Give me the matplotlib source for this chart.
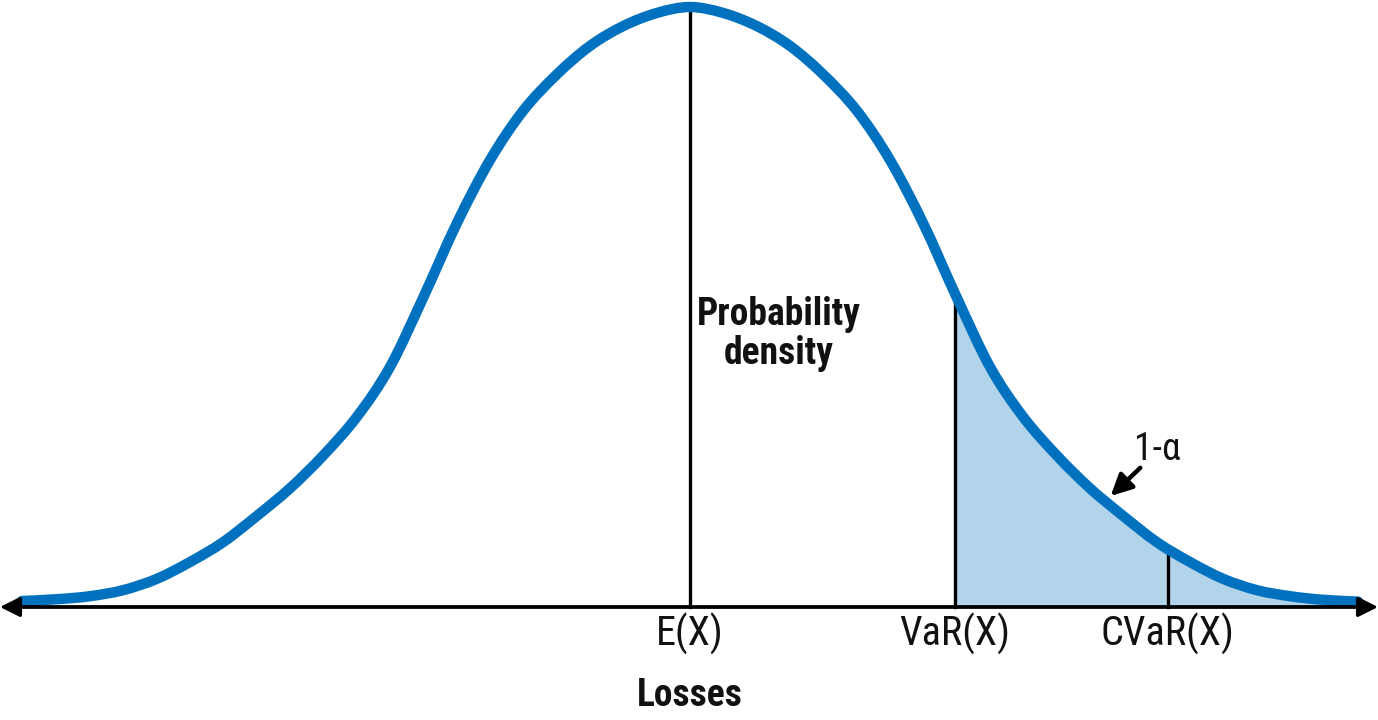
import numpy as np
import matplotlib
matplotlib.use("Agg")
import matplotlib.pyplot as plt
from matplotlib import font_manager as fm
from matplotlib.path import Path
from matplotlib.patches import PathPatch, Rectangle

# ---- data (x in std units, y relative density) ----
curve_x = [-2.930, -2.776, -2.632, -2.487, -2.338, -2.193, -2.048, -1.899, -1.754,
           -1.610, -1.461, -1.316, -1.171, -1.022, -0.877, -0.732, -0.583, -0.439,
           -0.294, -0.146, 0.000, 0.146, 0.294, 0.439, 0.583, 0.732, 0.877, 1.022,
           1.171, 1.316, 1.461, 1.610, 1.754, 1.899, 2.048, 2.193, 2.338, 2.487,
           2.632, 2.776, 2.930]
curve_y = [0.010, 0.013, 0.018, 0.028, 0.047, 0.075, 0.108, 0.152, 0.198,
           0.252, 0.317, 0.400, 0.515, 0.640, 0.745, 0.827, 0.888, 0.935,
           0.968, 0.990, 1.000, 0.990, 0.968, 0.935, 0.888, 0.827, 0.745, 0.640,
           0.515, 0.400, 0.317, 0.252, 0.198, 0.152, 0.108, 0.075, 0.047, 0.028,
           0.018, 0.012, 0.009]
mean_x = 0.0
var_x = 1.162
cvar_x = 2.096
tick_labels = ["E(X)", "VaR(X)", "CVaR(X)"]
tick_positions = [mean_x, var_x, cvar_x]
text_density = "Probability\ndensity"
text_losses = "Losses"
text_tail = "1-α"

# font choice
names = {f.name for f in fm.fontManager.ttflist}
family = "DejaVu Sans"
for cand in ["Roboto Condensed", "Liberation Sans Narrow", "Open Sans Condensed",
             "Roboto", "Liberation Sans"]:
    if cand in names:
        family = cand
        break
plt.rcParams['font.family'] = [family, 'DejaVu Sans']

blue = "#0071BF"
fill_c = "#B1D4EA"
ink = "#111111"

fig = plt.figure(figsize=(13.78, 7.2), dpi=100)
ax = fig.add_axes([0, 0, 1, 1])
ax.set_xlim(-690 / 228, (1378 - 690) / 228)
ax.set_ylim(-(720 - 607) / 600, 607 / 600)
ax.axis("off")

pts = np.column_stack([curve_x, curve_y])


def smooth_path(p):
    """Catmull-Rom through the points, rendered as cubic Bezier segments."""
    verts = [p[0]]
    codes = [Path.MOVETO]
    n = len(p)
    for i in range(n - 1):
        p0 = p[i - 1] if i > 0 else p[i]
        p1, p2 = p[i], p[i + 1]
        p3 = p[i + 2] if i + 2 < n else p[i + 1]
        c1 = p1 + (p2 - p0) / 6.0
        c2 = p2 - (p3 - p1) / 6.0
        verts += [c1, c2, p2]
        codes += [Path.CURVE4] * 3
    return verts, codes


v, c = smooth_path(pts)

# shaded tail: area under curve clipped to the right of VaR
fv = v + [(pts[-1][0], 0.0), (pts[0][0], 0.0), pts[0]]
fc = c + [Path.LINETO, Path.LINETO, Path.CLOSEPOLY]
area = PathPatch(Path(fv, fc), facecolor=fill_c, edgecolor="none", zorder=1)
ax.add_patch(area)
clip = Rectangle((var_x, -0.1), 5, 1.2, transform=ax.transData, visible=False)
ax.add_patch(clip)
area.set_clip_path(clip)

# curve
line = PathPatch(Path(v, c), facecolor="none", edgecolor=blue, lw=7.5,
                 capstyle="round", joinstyle="round", zorder=3)
ax.add_patch(line)

# x axis with arrows
xl = ax.get_xlim()
for a, b in [(xl[0] + 0.08, xl[1]), (xl[1] - 0.08, xl[0])]:
    ax.annotate("", xy=(b, 0), xytext=(a, 0),
                arrowprops=dict(arrowstyle="-|>", color="black", lw=2.4,
                                mutation_scale=30, shrinkA=0, shrinkB=0), zorder=4)

# vertical lines
for p in tick_positions:
    h = np.interp(p, curve_x, curve_y)
    ax.plot([p, p], [0, h], color="black", lw=2.4, zorder=2)

# tick labels
for p, lab in zip(tick_positions, tick_labels):
    ax.text(p, -0.045, lab, ha="center", va="center", fontsize=29, color=ink)

ax.text(mean_x, -0.147, text_losses, ha="center", va="center", fontsize=27,
        fontweight="semibold", color=ink)
ax.text(0.03, 0.455, text_density, ha="left", va="center", fontsize=27,
        fontweight="semibold", color=ink, multialignment="center", linespacing=1.05)

ax.text(2.05, 0.262, text_tail, ha="center", va="center", fontsize=27, color=ink)
ax.annotate("", xy=(1.845, 0.185), xytext=(1.975, 0.232),
            arrowprops=dict(arrowstyle="-|>", color="black", lw=3.2,
                            mutation_scale=32, shrinkA=0, shrinkB=0), zorder=5)

fig.savefig("out.png", dpi=100)
